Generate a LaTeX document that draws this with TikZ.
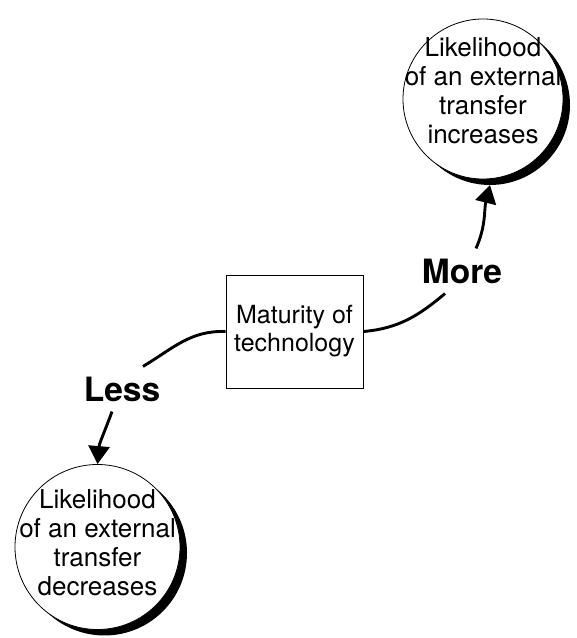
\documentclass[tikz,border=0pt]{standalone}
\usepackage{fontspec}
\setmainfont{TeX Gyre Heros}
\usepackage{tikz}
\usetikzlibrary{arrows.meta, shadows}

\begin{document}
\begin{tikzpicture}[x=1pt, y=1pt,
    bubble/.style={circle, draw, line width=0.8pt, fill=white, inner sep=0pt,
        drop shadow={shadow xshift=7pt, shadow yshift=-6pt, fill=black, opacity=1}},
    bubbletext/.style={align=center, inner sep=0pt, font=\fontsize{26}{29}\selectfont},
    factor/.style={draw, line width=0.8pt, minimum width=137pt, minimum height=113pt,
        align=center, font=\fontsize{25}{28}\selectfont},
    sign/.style={inner sep=10pt, font=\bfseries\fontsize{33.5}{36}\selectfont},
    link/.style={line width=2.9pt},
    effect/.style={link, -{Triangle[width=21pt, length=18pt]}}]
    \useasboundingbox (0,0) rectangle (577,638);
    \node[factor] (maturity) at (294.5,306.5) {Maturity of\\technology};
    \node[bubble, minimum size=160pt] (up) at (483,539) {};
    \node[bubbletext] (uptext) at (483,547) {Likelihood\\of an external\\transfer\\increases};
    \node[bubble, minimum size=165pt] (down) at (97.5,91) {};
    \node[bubbletext] (downtext) at (97.5,95) {Likelihood\\of an external\\transfer\\decreases};
    \node[sign] (more) at (462,367) {More};
    \node[sign] (less) at (122,249) {Less};
    % more mature -> higher likelihood
    \draw[link] (maturity.east) to[out=5, in=220] ([xshift=-17pt]more.south);
    \draw[effect] ([xshift=14pt]more.north) to[out=66, in=-104] ([yshift=-6pt]up.-85);
    % less mature -> lower likelihood
    \draw[link] (maturity.west) to[out=178, in=31] ([xshift=21pt]less.north);
    \draw[effect] ([xshift=-10pt]less.south) to[out=-110, in=85] (down.north);
\end{tikzpicture}
\end{document}
